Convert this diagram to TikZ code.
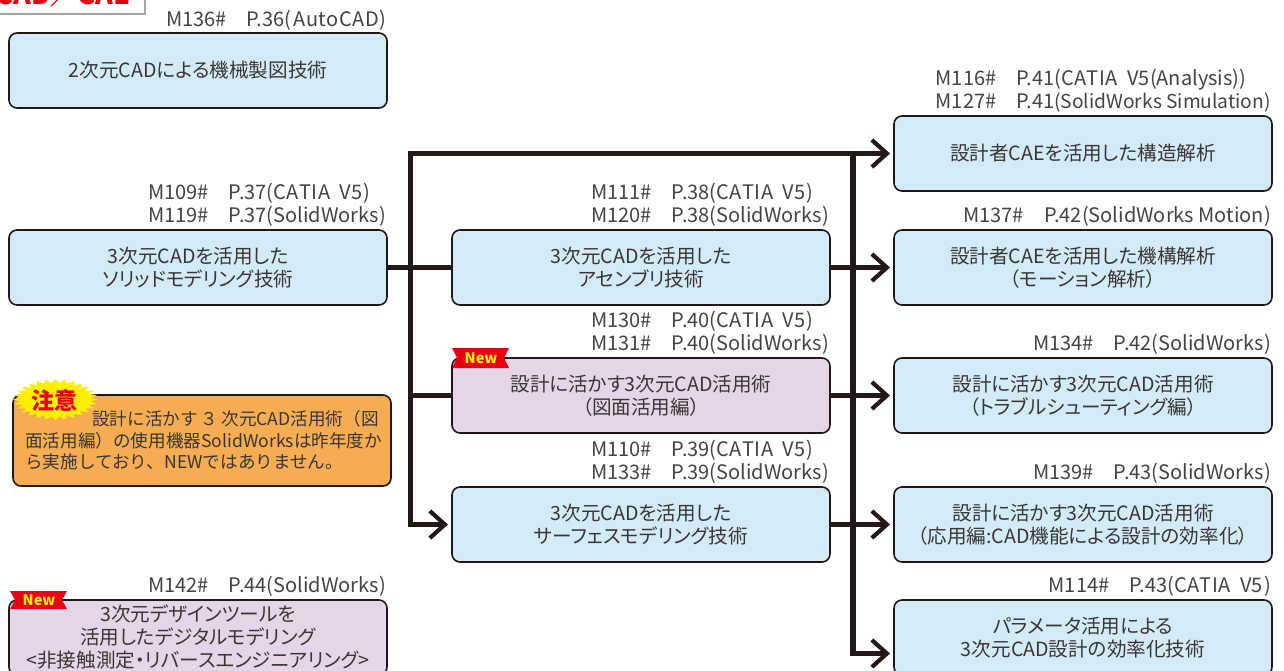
\documentclass[tikz,border=0pt]{standalone}
\usepackage{fontspec}
\setmainfont[RawFeature=+palt]{Noto Sans CJK JP}
\newfontfamily\fullcjk{Noto Sans CJK JP}
\usetikzlibrary{arrows.meta,shapes.geometric}
\definecolor{ink}{HTML}{231815}
\definecolor{txt}{HTML}{3A3634}
\definecolor{codetxt}{HTML}{474342}
\definecolor{boxblue}{HTML}{D3EBF9}
\definecolor{boxpurple}{HTML}{E6D5E8}
\definecolor{boxorange}{HTML}{F6AD52}
\definecolor{ribred}{HTML}{E60012}
\definecolor{ribyellow}{HTML}{FFF000}
\tikzset{
  course/.style={draw=ink,line width=1.6pt,rounded corners=8pt,minimum width=378pt,minimum height=75pt,
    outer sep=0pt,inner sep=0pt,align=center,text=txt,font=\fontsize{19.6}{23}\selectfont},
  bluebox/.style={course,fill=boxblue},
  purplebox/.style={course,fill=boxpurple},
  codes/.style={anchor=east,align=left,inner sep=0pt,text=codetxt,font=\fontsize{20}{22.9}\selectfont},
  wire/.style={draw=ink,line width=5.6pt},
  arrowwire/.style={wire,-{Straight Barb[length=15pt,width=27pt,line width=4.2pt]},shorten >=4pt},
  newtext/.style={text=ribyellow,inner sep=0pt,font=\fontsize{14.5}{15}\selectfont\bfseries},
  ribbon/.style={fill=ribred,draw=none}
}
\newcommand{\gapp}{\kern20pt}
\newcommand{\catia}{C\kern.5pt A\kern.5pt T\kern.5pt I\kern.5pt A\kern5pt\ V5}
\begin{document}
\begin{tikzpicture}[x=1pt,y=-1pt]
\useasboundingbox (0,0) rectangle (1284,670);
\clip (0,0) rectangle (1284,670);
\fill[white] (0,0) rectangle (1284,670);

% header tab
\node[name=tab,draw=gray!70,line width=2.6pt,fill=white,minimum width=160pt,minimum height=40pt,outer sep=0pt,anchor=south east] at (145,14) {};
\node[name=tabtext,anchor=base east,inner sep=0pt,text=ribred,font=\fontsize{27}{30}\selectfont\bfseries] at (131,4.5) {CAD／CAE};

% boxes
\node[bluebox] (b1) at (198,70.5) {2次元CADによる機械製図技術};
\node[bluebox] (b2) at (198,267.5) {3次元CADを活用した\\ソリッドモデリング技術};
\node[bluebox] (b3) at (641,267.5) {3次元CADを活用した\\アセンブリ技術};
\node[purplebox] (b4) at (641,395.5) {設計に活かす3次元CAD活用術\\（図面活用編）};
\node[bluebox] (b5) at (641,524.5) {3次元CADを活用した\\サーフェスモデリング技術};
\node[purplebox] (b6) at (198,637.5) {3次元デザインツールを\\活用したデジタルモデリング\\<非接触測定・リバースエンジニアリング>};
\node[bluebox] (c1) at (1083,153.5) {設計者CAEを活用した構造解析};
\node[bluebox] (c2) at (1083,267.5) {設計者CAEを活用した機構解析\\（モーション解析）};
\node[bluebox] (c3) at (1083,395.5) {設計に活かす3次元CAD活用術\\（トラブルシューティング編）};
\node[bluebox] (c4) at (1083,524.5) {設計に活かす3次元CAD活用術\\（応用編:CAD機能による設計の効率化）};
\node[bluebox] (c5) at (1083,637.5) {パラメータ活用による\\3次元CAD設計の効率化技術};

% connectors
\coordinate (ja) at (410.5,153.5);
\coordinate (jb) at (410.5,267.5);
\coordinate (jc) at (410.5,395.5);
\coordinate (jd) at (410.5,524.5);
\coordinate (ka) at (852.7,153.5);
\coordinate (ke) at (852.7,653.5);
\coordinate (c5in) at (894,653.5);
\draw[wire] (b2.east) -- (b3.west);
\draw[wire,line cap=butt] ([yshift=2.8pt]ja) -- ([yshift=-2.8pt]jd);
\draw[wire] (jc) -- (b4.west);
\draw[arrowwire] ([xshift=-2.8pt]jd) -- (b5.west);
\draw[arrowwire] ([xshift=-2.8pt]ja) -- (c1.west);
\draw[wire] (ka) -- ([yshift=-2.8pt]ke);
\draw[arrowwire] (b3.east) -- (c2.west);
\draw[arrowwire] (b4.east) -- (c3.west);
\draw[arrowwire] (b5.east) -- (c4.west);
\draw[arrowwire] ([xshift=-2.8pt]ke) -- (c5in);

% codes
\node[codes] (l1) at (386,20) {M136\#\gapp P.36(\kern2pt A\kern.5pt u\kern.5pt t\kern.5pt o\kern.5pt C\kern.5pt A\kern.5pt D)};
\node[codes] (l2) at (386,205) {M109\#\gapp P.37(\catia\kern1pt)\\M119\#\gapp P.37(SolidWorks)};
\node[codes] (l3) at (829,205) {M111\#\gapp P.38(\catia\kern1pt)\\M120\#\gapp P.38(SolidWorks)};
\node[codes] (l4) at (829,333) {M130\#\gapp P.40(\catia\kern1pt)\\M131\#\gapp P.40(SolidWorks)};
\node[codes] (l5) at (829,462) {M110\#\gapp P.39(\catia\kern1pt)\\M133\#\gapp P.39(SolidWorks)};
\node[codes] (l6) at (386,586) {M142\#\gapp P.44(SolidWorks)};
\node[codes] (l7) at (1271,91) {M116\#\gapp P.41(\catia(Analysis))\\M127\#\gapp P.41{\fontsize{19.2}{22.9}\selectfont(SolidWorks Simulation)}};
\node[codes] (l8) at (1271,216) {M137\#\gapp P.42(SolidWorks Motion)};
\node[codes] (l9) at (1271,344) {M134\#\gapp P.42(SolidWorks)};
\node[codes] (l10) at (1271,473) {M139\#\gapp P.43(SolidWorks)};
\node[codes] (l11) at (1271,586) {M114\#\gapp P.43(\catia\kern1pt)};

% ribbons
\fill[ribbon] (452,348) -- (509,348) -- (504,358) -- (509,368) -- (452,368) -- (457,358) -- cycle;
\node[newtext] (n1) at (481,358) {New};
\fill[ribbon] (10,591) -- (67,591) -- (62,600) -- (67,609) -- (10,609) -- (15,600) -- cycle;
\node[newtext] (n2) at (39,600) {New};

% note
\node[name=note,draw=ink,line width=1.6pt,fill=boxorange,rounded corners=8pt,minimum width=378pt,minimum height=91pt,
  outer sep=0pt,inner sep=0pt,text width=353.5pt,align=left,text=txt,font=\fullcjk\fontsize{17.6}{21.5}\selectfont] at (202,440.5)
  {\hspace*{67pt}設計に活かす\kern3pt ３\kern3pt 次元CAD活用術（図\\面活用編）の使用機器SolidWorksは昨年度か\\ら実施しており、NEWではありません。};
\node[name=burst,star,star points=28,star point ratio=1.22,fill=ribyellow,minimum size=60pt,inner sep=0pt,xscale=1.42,yscale=0.68,transform shape] at (55.5,399.5) {};
\node[name=burstt,text=ribred,inner sep=0pt,font=\fontsize{23}{24}\selectfont\bfseries] at (54.5,401) {注意};
\end{tikzpicture}
\end{document}
